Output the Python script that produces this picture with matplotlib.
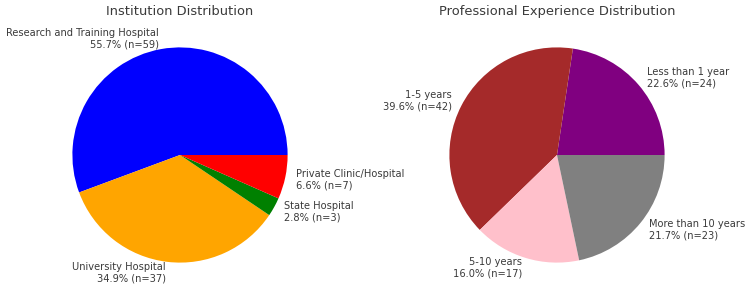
import matplotlib
matplotlib.use('Agg')
import matplotlib.pyplot as plt

# Institution
inst_labels = ['Research and Training Hospital', 'University Hospital', 'State Hospital', 'Private Clinic/Hospital']
inst_counts = [59, 37, 3, 7]
inst_colors = ['blue', 'orange', 'green', 'red']

# Experience
exp_labels = ['Less than 1 year', '1-5 years', '5-10 years', 'More than 10 years']
exp_counts = [24, 42, 17, 23]
exp_colors = ['purple', 'brown', 'pink', 'gray']

txt = '#3a3a3a'


def make_labels(labels, counts):
    tot = sum(counts)
    return [f'{l}\n{c / tot * 100:.1f}% (n={c})' for l, c in zip(labels, counts)]


fig = plt.figure(figsize=(12, 4.736), dpi=62.5)
ax1 = fig.add_axes([45.5 / 750, 6.5 / 296, 269 / 750, 269 / 296])
ax2 = fig.add_axes([422.5 / 750, 6.5 / 296, 269 / 750, 269 / 296])

ax1.pie(inst_counts, labels=make_labels(inst_labels, inst_counts), colors=inst_colors,
        textprops={'color': txt, 'fontsize': 11.4})
ax1.set_title('Institution Distribution', fontsize=15, color=txt)

ax2.pie(exp_counts, labels=make_labels(exp_labels, exp_counts), colors=exp_colors,
        textprops={'color': txt, 'fontsize': 11.4})
ax2.set_title('Professional Experience Distribution', fontsize=15, color=txt)

fig.savefig('out.png', dpi=62.5)
